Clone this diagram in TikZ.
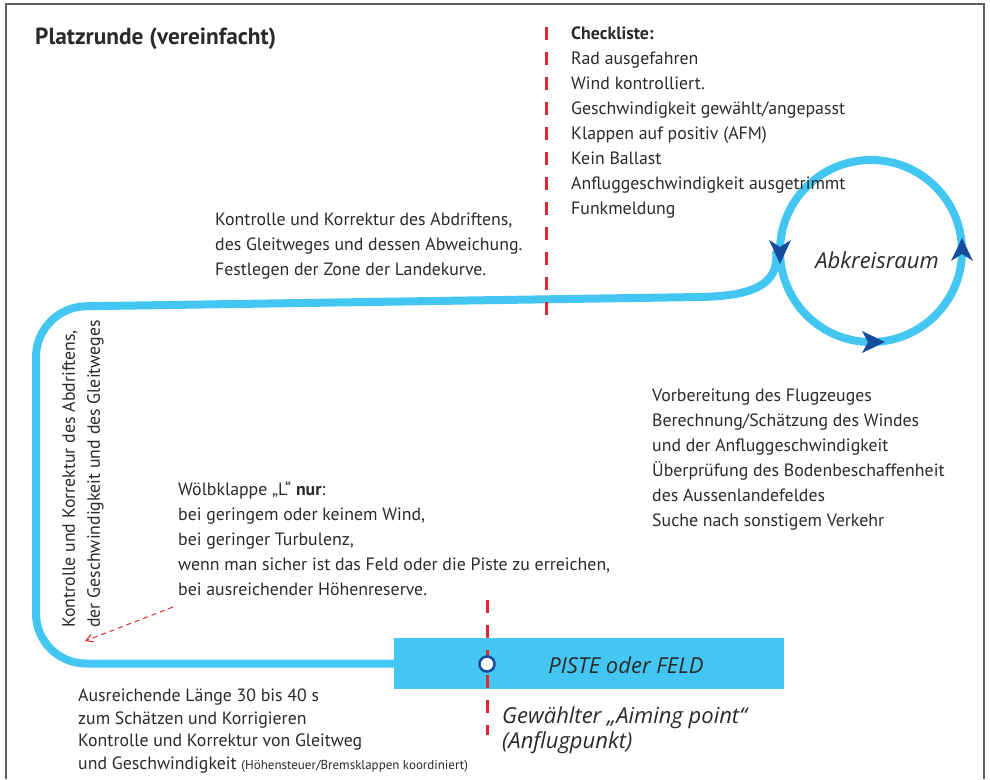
\documentclass[tikz,border=0pt]{standalone}
\usepackage{fontspec}
\setmainfont{PT Sans}
\newfontfamily\itfont{Open Sans}
\usetikzlibrary{arrows.meta}
\definecolor{sky}{HTML}{43C7F2}
\definecolor{navy}{HTML}{164C9E}
\definecolor{redd}{HTML}{E52530}
\definecolor{txtc}{HTML}{2A2A2A}
\definecolor{framec}{HTML}{5F5F5F}
\begin{document}
\begin{tikzpicture}[x=1pt,y=-1pt,
  txt/.style={font=\fontsize{17.8}{25}\selectfont, align=left, inner sep=0pt, anchor=north west, text=txtc},
  ittxt/.style={font=\itfont\itshape\fontsize{22}{25}\selectfont, text=txtc, inner sep=0pt},
  flight/.style={draw=sky, line width=8pt},
  reddash/.style={draw=redd, line width=3pt, dash pattern=on 13pt off 12pt},
  tipc/.style={fill=navy}]
\useasboundingbox (0,0) rectangle (990,779);
\draw[framec, line width=2pt] (6,779) -- (6,4) -- (984,4) -- (984,779);

% title
\node[txt, font=\bfseries\fontsize{23.3}{26}\selectfont, anchor=base west] (title) at (35,44) {Platzrunde (vereinfacht)};

% runway
\node[fill=sky, minimum width=390, minimum height=51, inner sep=0pt, anchor=west] (rw) at (394,663.5) {};
\node[ittxt] (piste) at (626,665) {PISTE oder FELD};

% holding circle
\node[circle, draw=sky, line width=8pt, minimum size=182, inner sep=0pt] (loop) at (871,251) {};
\node[ittxt] (abk) at (877,260) {Abkreisraum};

% flight path
\coordinate (c1) at (36,663.5);
\coordinate (c2) at (36,307);
\coordinate (c3) at (700,297);
\draw[flight, rounded corners=50pt] (rw.west) -- (c1) -- (c2) -- (c3);
\draw[flight] (c3) .. controls (752,296) and (780,285) .. (loop.west);

% arrow tips
\fill[tipc] (780,264) -- (769,240) -- (780,247) -- (791,240) -- cycle;
\fill[tipc] (885,342) -- (862,331) -- (868,342) -- (862,353) -- cycle;
\fill[tipc] (962,238) -- (951,261) -- (962,254) -- (973,261) -- cycle;

% red dashed lines
\coordinate (r1a) at (546,27);
\coordinate (r1b) at (546,318);
\draw[reddash] (r1a) -- (r1b);
\coordinate (r2a) at (487,600);
\coordinate (r2b) at (487,735);
\draw[reddash] (r2a) -- (r2b);

% aiming point
\node[circle, fill=white, draw=navy, line width=2.5pt, minimum size=15, inner sep=0pt] (aim) at (487,664) {};

% thin red arrow
\coordinate (wa) at (173,607);
\coordinate (wb) at (85,641);
\draw[redd, line width=1pt, dash pattern=on 5pt off 4pt, -{Straight Barb[length=7pt,width=8pt]}] (wa) -- (wb);

% texts
\node[txt] (check) at (571,27) {\textbf{Checkliste:}\\Rad ausgefahren\\Wind kontrolliert.\\Geschwindigkeit gewählt/angepasst\\Klappen auf positiv (AFM)\\Kein Ballast\\Anfluggeschwindigkeit ausgetrimmt\\Funkmeldung};

\node[txt] (downwind) at (215,213) {Kontrolle und Korrektur des Abdriftens,\\des Gleitweges und dessen Abweichung.\\Festlegen der Zone der Landekurve.};

\node[txt] (flaps) at (178,481) {Wölbklappe „L“ \textbf{nur}:\\bei geringem oder keinem Wind,\\bei geringer Turbulenz,\\wenn man sicher ist das Feld oder die Piste zu erreichen,\\bei ausreichender Höhenreserve.};

\node[txt] (prep) at (652,389) {Vorbereitung des Flugzeuges\\Berechnung/Schätzung des Windes\\und der Anfluggeschwindigkeit\\Überprüfung des Bodenbeschaffenheit\\des Aussenlandefeldes\\Suche nach sonstigem Verkehr};

\node[txt, font=\fontsize{17.8}{22.5}\selectfont] (final) at (78,689) {Ausreichende Länge 30 bis 40 s\\zum Schätzen und Korrigieren\\Kontrolle und Korrektur von Gleitweg\\und Geschwindigkeit {\fontsize{13}{14}\selectfont (Höhensteuer/Bremsklappen koordiniert)}};

\node[txt, anchor=center, rotate=90] (base) at (83,474) {Kontrolle und Korrektur des Abdriftens,\\der Geschwindigkeit und des Gleitweges};

\node[ittxt, align=left, anchor=north west] (aimtxt) at (502,707) {Gewählter „Aiming point“\\(Anflugpunkt)};
\end{tikzpicture}
\end{document}
